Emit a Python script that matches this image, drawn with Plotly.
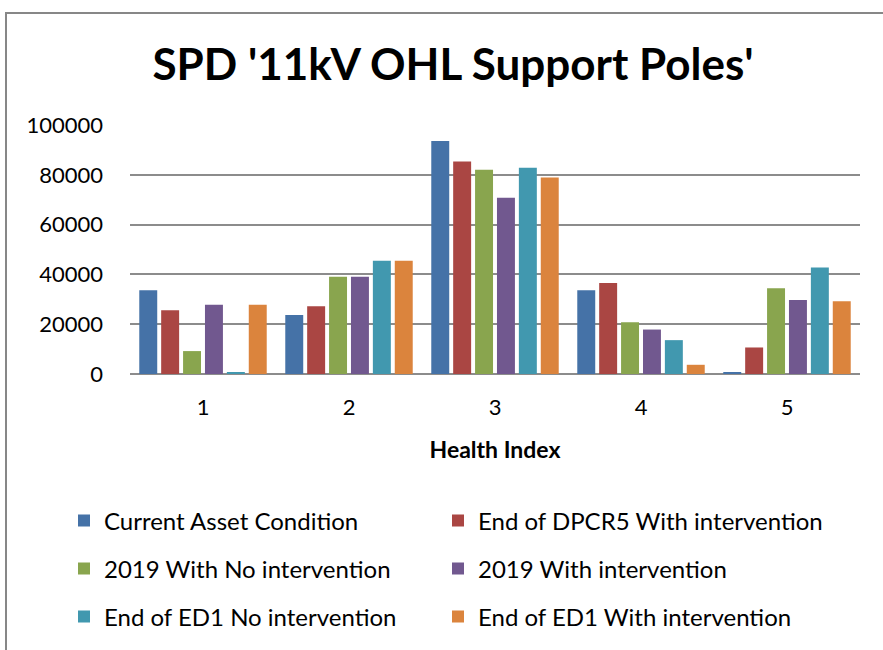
import plotly.graph_objects as go

categories = ["1", "2", "3", "4", "5"]
series_names = [
    "Current Asset Condition",
    "End of DPCR5 With intervention",
    "2019 With No intervention",
    "2019 With intervention",
    "End of ED1 No intervention",
    "End of ED1 With intervention",
]
current_asset = [33600, 23700, 93600, 33600, 800]
dpcr5_with = [25600, 27200, 85300, 36500, 10650]
y2019_no = [9200, 39050, 82000, 20800, 34400]
y2019_with = [27850, 39050, 70800, 17850, 29700]
ed1_no = [650, 45450, 82800, 13600, 42800]
ed1_with = [27850, 45450, 78900, 3700, 29200]
y_ticks = [0, 20000, 40000, 60000, 80000, 100000]

series_values = [current_asset, dpcr5_with, y2019_no, y2019_with, ed1_no, ed1_with]
colors = ["#4572A7", "#AA4643", "#89A54E", "#71588F", "#4198AF", "#DB843D"]

FONT = "Lato, 'Open Sans', sans-serif"

W, H = 883, 650
L, R, T, B = 130, 23, 125, 275
pw, ph = W - L - R, H - T - B

def px_x(p):
    return (p - L) / pw

def px_y(p):
    return (H - B - p) / ph

# legend placement: two columns, three rows
col_left = [64, 438]
row_mid = [521, 569, 617]

fig = go.Figure()
legend_layout = {}
for i, (name, vals, col) in enumerate(zip(series_names, series_values, colors)):
    lid = "legend" if i == 0 else f"legend{i + 1}"
    fig.add_trace(go.Bar(
        x=categories, y=vals, name=name, legend=lid,
        marker=dict(color=col, line=dict(width=0)),
    ))
    legend_layout[lid] = dict(
        orientation="v", xref="paper", yref="paper",
        x=px_x(col_left[i % 2]), xanchor="left",
        y=px_y(row_mid[i // 2]), yanchor="middle",
        font=dict(family=FONT, size=24, color="#000000"),
        itemwidth=30, bgcolor="rgba(0,0,0,0)",
    )

fig.update_layout(
    width=W, height=H,
    margin=dict(l=L, r=R, t=T, b=B),
    paper_bgcolor="white", plot_bgcolor="white",
    barmode="group", bargap=0.1, bargroupgap=0.18,
    font=dict(family=FONT, color="#000000"),
    title=dict(
        text="<b>SPD '11kV OHL Support Poles'</b>",
        font=dict(family=FONT, size=44, color="#000000"),
        x=453 / W, xanchor="center", y=1 - 65 / H, yanchor="middle",
    ),
    xaxis=dict(
        showgrid=False, showline=False, zeroline=False,
        tickfont=dict(family=FONT, size=22, color="#000000"),
        ticklabelstandoff=18,
        title=dict(text="<b>Health Index</b>",
                   font=dict(family=FONT, size=23, color="#000000"),
                   standoff=22),
    ),
    yaxis=dict(
        range=[0, 100000], tickvals=y_ticks,
        ticktext=[str(v) for v in y_ticks],
        showgrid=True, gridcolor="#8c8c8c", gridwidth=1.6,
        zeroline=True, zerolinecolor="#8c8c8c", zerolinewidth=1.6,
        showline=False,
        tickfont=dict(family=FONT, size=22, color="#000000"),
        ticklabelstandoff=26,
    ),
    showlegend=True,
    shapes=[dict(
        type="rect", xref="paper", yref="paper",
        x0=px_x(6), x1=px_x(900), y0=px_y(12.5), y1=px_y(700),
        line=dict(color="#878787", width=2), fillcolor="rgba(0,0,0,0)",
        layer="below",
    )],
    **legend_layout,
)

fig.write_html(
    "out.html",
    config={"displayModeBar": False},
    post_script="document.body.style.margin='0';document.body.style.overflow='hidden';",
)
